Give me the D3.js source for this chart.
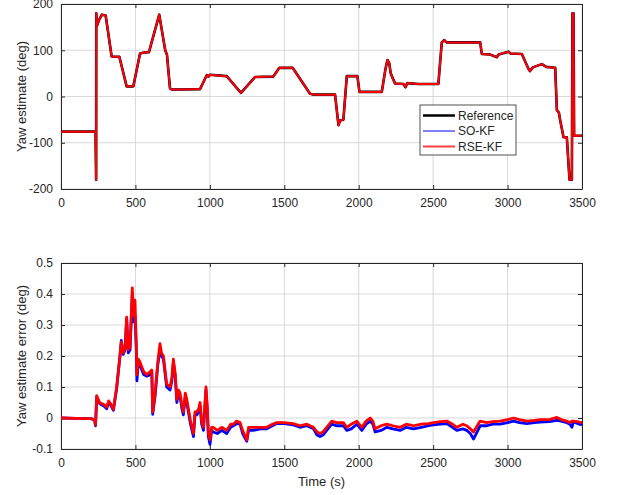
<!DOCTYPE html>
<html>
<head>
<meta charset="utf-8">
<script src="https://cdn.jsdelivr.net/npm/d3@7"></script>
<style>
  body { margin: 0; background: #fff; }
  text { font-family: "Liberation Sans", Arial, sans-serif; fill: #262626; }
</style>
</head>
<body>
<div id="chart"></div>
<script>
// yaw (deg); the two filter estimates sit on the reference at this scale
var yawTime = [0, 225, 232, 236, 237, 240, 255, 275, 300, 340, 350, 392, 441, 486, 531, 560, 591, 660, 700, 712, 732, 743, 800, 934,
  979, 990, 1000, 1113, 1209, 1303, 1426, 1467, 1556, 1673, 1700, 1841, 1864, 1875, 1897, 1920, 1991, 2005, 2155, 2180, 2193,
  2205, 2215, 2244, 2300, 2315, 2325, 2400, 2535, 2558, 2575, 2590, 2816, 2827, 2880, 2928, 2940, 3006, 3020, 3096, 3140, 3150,
  3170, 3230, 3260, 3320, 3331, 3345, 3353, 3376, 3398, 3416, 3432, 3436, 3443, 3447, 3500];
var yawRef = [-76, -76, -78, -180, 180, 152, 165, 177, 175, 87, 86, 86, 22, 22, 93, 95, 96, 177, 100, 90, 18, 15, 15, 16,
  46, 43, 47, 44, 8, 42, 43, 62, 62, 6, 4, 4, -62, -52, -50, 44, 44, 10, 10, 60, 79,
  72, 50, 28, 27, 20, 29, 27, 27, 117, 122, 117, 117, 92, 91, 85, 91, 97, 93, 92, 60, 55,
  63, 70, 64, 62, -29, -35, -51, -88, -88, -180, -180, 180, 180, -85, -85];
var yawSoKf = yawRef;
var yawRseKf = yawRef;

// yaw estimate error (deg), bottom panel
var errTime = [0, 100, 200, 225, 232, 240, 250, 262, 285, 307, 320, 335, 352, 374, 396, 405, 418, 430, 441, 452, 464, 479, 488,
  497, 505, 510, 520, 531, 555, 576, 600, 610, 616, 632, 650, 665, 675, 688, 700, 710, 732, 745, 755, 768, 778, 790, 800, 812,
  822, 835, 845, 870, 890, 900, 912, 925, 934, 945, 957, 974, 982, 990, 1001, 1012, 1023, 1050, 1080, 1113, 1140, 1158, 1180,
  1203, 1220, 1248, 1260, 1292, 1340, 1382, 1420, 1449, 1500, 1560, 1606, 1651, 1696, 1720, 1740, 1760, 1785, 1819, 1850,
  1897, 1920, 1950, 1987, 2021, 2050, 2077, 2095, 2110, 2150, 2189, 2230, 2278, 2320, 2368, 2420, 2470, 2502, 2550, 2592,
  2630, 2659, 2700, 2726, 2750, 2771, 2790, 2816, 2861, 2900, 2950, 3000, 3040, 3080, 3129, 3180, 3219, 3280, 3331, 3360,
  3398, 3420, 3432, 3443, 3470, 3500];
var errRseKf = [0, -0.001, -0.002, -0.005, -0.022, 0.072, 0.06, 0.048, 0.045, 0.035, 0.055, 0.045, 0.028, 0.1, 0.2, 0.245,
  0.21, 0.225, 0.325, 0.22, 0.23, 0.42, 0.33, 0.38, 0.25, 0.14, 0.19, 0.18, 0.15, 0.14, 0.15, 0.155, 0.02, 0.08, 0.18, 0.24,
  0.21, 0.2, 0.15, 0.11, 0.1, 0.13, 0.19, 0.14, 0.06, 0.09, 0.08, 0.04, 0.02, 0.08, 0.06, -0.01, -0.05, 0.02, 0.02, 0.03,
  0.05, -0.01, -0.03, 0.1, 0.04, -0.05, -0.07, -0.03, -0.03, -0.04, -0.03, -0.04, -0.02, -0.02, -0.01, -0.015, -0.04, -0.07,
  -0.03, -0.03, -0.03, -0.03, -0.02, -0.015, -0.015, -0.018, -0.025, -0.02, -0.03, -0.045, -0.05, -0.045, -0.03, -0.01,
  -0.015, -0.015, -0.03, -0.02, -0.01, -0.03, -0.01, 0, -0.01, -0.035, -0.025, -0.02, -0.025, -0.03, -0.02, -0.025, -0.02,
  -0.018, -0.015, -0.012, -0.01, -0.02, -0.03, -0.02, -0.025, -0.035, -0.045, -0.03, -0.01, -0.015, -0.012, -0.01, -0.005,
  0, -0.005, -0.01, -0.008, -0.005, -0.005, 0.002, -0.005, -0.01, -0.015, -0.01, -0.01, -0.012, -0.015];
var errSoKf = [0, -0.001, -0.002, -0.006, -0.025, 0.068, 0.055, 0.045, 0.04, 0.03, 0.05, 0.04, 0.025, 0.095, 0.2, 0.25,
  0.205, 0.22, 0.32, 0.21, 0.22, 0.4, 0.31, 0.33, 0.23, 0.12, 0.18, 0.17, 0.14, 0.135, 0.14, 0.15, 0.012, 0.07, 0.17, 0.22,
  0.2, 0.19, 0.14, 0.1, 0.09, 0.12, 0.18, 0.13, 0.05, 0.08, 0.07, 0.03, 0.01, 0.07, 0.05, -0.02, -0.06, 0.01, 0.01, 0.02,
  0.04, -0.02, -0.04, 0.09, 0.03, -0.06, -0.085, -0.04, -0.045, -0.05, -0.04, -0.05, -0.03, -0.025, -0.018, -0.02, -0.05,
  -0.075, -0.04, -0.04, -0.035, -0.035, -0.025, -0.018, -0.018, -0.022, -0.03, -0.025, -0.035, -0.055, -0.06, -0.055, -0.04,
  -0.02, -0.025, -0.025, -0.04, -0.035, -0.02, -0.04, -0.02, -0.01, -0.02, -0.045, -0.04, -0.03, -0.035, -0.04, -0.03,
  -0.035, -0.03, -0.025, -0.022, -0.02, -0.018, -0.03, -0.04, -0.035, -0.04, -0.05, -0.068, -0.05, -0.025, -0.025, -0.02,
  -0.02, -0.015, -0.01, -0.015, -0.018, -0.015, -0.013, -0.012, -0.008, -0.01, -0.015, -0.02, -0.03, -0.012, -0.018, -0.022];

var xTicks = [0, 500, 1000, 1500, 2000, 2500, 3000, 3500];
var yawTicks = [-200, -100, 0, 100, 200];
var errTicks = [-0.1, 0, 0.1, 0.2, 0.3, 0.4, 0.5];
var legendNames = ["Reference", "SO-KF", "RSE-KF"];
var legendColors = ["#000000", "#0000ff", "#ff4040"];
var legendWidths = [2.5, 1, 2];

var width = 618, height = 495;
var left = 61, right = 582;

var svg = d3.select("#chart").append("svg")
    .attr("width", width).attr("height", height);

var x = d3.scaleLinear().domain([0, 3500]).range([left, right]);

function panel(id, y0, y1, yDomain, yTicks, fmt, label) {
    var y = d3.scaleLinear().domain(yDomain).range([y1, y0]);
    var g = svg.append("g");

    g.append("clipPath").attr("id", id).append("rect")
        .attr("x", left).attr("y", y0).attr("width", right - left).attr("height", y1 - y0);

    // grid
    g.selectAll(".gx").data(xTicks).enter().append("line")
        .attr("x1", d => x(d)).attr("x2", d => x(d)).attr("y1", y0).attr("y2", y1)
        .attr("stroke", "#d9d9d9").attr("stroke-width", 1);
    g.selectAll(".gy").data(yTicks).enter().append("line")
        .attr("x1", left).attr("x2", right).attr("y1", d => y(d)).attr("y2", d => y(d))
        .attr("stroke", "#d9d9d9").attr("stroke-width", 1);

    // axes with inward ticks, box on all sides
    g.append("g").attr("transform", "translate(0," + y1 + ")")
        .call(d3.axisBottom(x).tickValues(xTicks).tickSizeInner(-4).tickSizeOuter(0).tickPadding(9).tickFormat(d => String(d)));
    g.append("g").attr("transform", "translate(0," + y0 + ")")
        .call(d3.axisTop(x).tickValues(xTicks).tickSizeInner(-4).tickSizeOuter(0).tickFormat(""));
    g.append("g").attr("transform", "translate(" + left + ",0)")
        .call(d3.axisLeft(y).tickValues(yTicks).tickSizeInner(-4).tickSizeOuter(0).tickPadding(8).tickFormat(fmt));
    g.append("g").attr("transform", "translate(" + right + ",0)")
        .call(d3.axisRight(y).tickValues(yTicks).tickSizeInner(-4).tickSizeOuter(0).tickFormat(""));

    g.selectAll(".domain").attr("stroke", "#262626").attr("stroke-width", 1);
    g.selectAll(".tick line").attr("stroke", "#262626");
    g.selectAll(".tick text").attr("font-size", "12px").attr("fill", "#262626")
        .attr("font-family", "'Liberation Sans', Arial, sans-serif");

    g.append("text")
        .attr("transform", "translate(21," + ((y0 + y1) / 2) + ") rotate(-90)")
        .attr("text-anchor", "middle").attr("dy", "0.35em")
        .attr("font-size", "13px").text(label);

    return {g: g, y: y};
}

function drawLine(p, clipId, times, values, color, w) {
    var line = d3.line().x((d, i) => x(times[i])).y(d => p.y(d));
    p.g.append("path").datum(values)
        .attr("clip-path", "url(#" + clipId + ")")
        .attr("d", line).attr("fill", "none")
        .attr("stroke", color).attr("stroke-width", w)
        .attr("stroke-linejoin", "round");
}

var yawPanel = panel("clipTop", 4, 189, [-200, 200], yawTicks, d => String(d), "Yaw estimate (deg)");
drawLine(yawPanel, "clipTop", yawTime, yawRef, "#000000", 2.6);
drawLine(yawPanel, "clipTop", yawTime, yawSoKf, "#0000ff", 1.4);
drawLine(yawPanel, "clipTop", yawTime, yawRseKf, "#ff0000", 2);

var errPanel = panel("clipBot", 263, 449, [-0.1, 0.5], errTicks, d => d === 0 ? "0" : d.toFixed(1), "Yaw estimate error (deg)");
drawLine(errPanel, "clipBot", errTime, errSoKf, "#0000ff", 2.8);
drawLine(errPanel, "clipBot", errTime, errRseKf, "#ff0000", 2.8);

svg.append("text").attr("x", (left + right) / 2).attr("y", 486)
    .attr("text-anchor", "middle").attr("font-size", "13px").text("Time (s)");

// legend
var lg = svg.append("g").attr("transform", "translate(420,105)");
lg.append("rect").attr("width", 96).attr("height", 50)
    .attr("fill", "#fff").attr("stroke", "#262626").attr("stroke-width", 0.8);
legendNames.forEach(function (name, i) {
    var yy = 10.5 + i * 15.5;
    lg.append("line").attr("x1", 3).attr("x2", 35).attr("y1", yy).attr("y2", yy)
        .attr("stroke", legendColors[i]).attr("stroke-width", legendWidths[i]);
    lg.append("text").attr("x", 38).attr("y", yy).attr("dy", "0.35em")
        .attr("font-size", "12px").text(name);
});
</script>
</body>
</html>
